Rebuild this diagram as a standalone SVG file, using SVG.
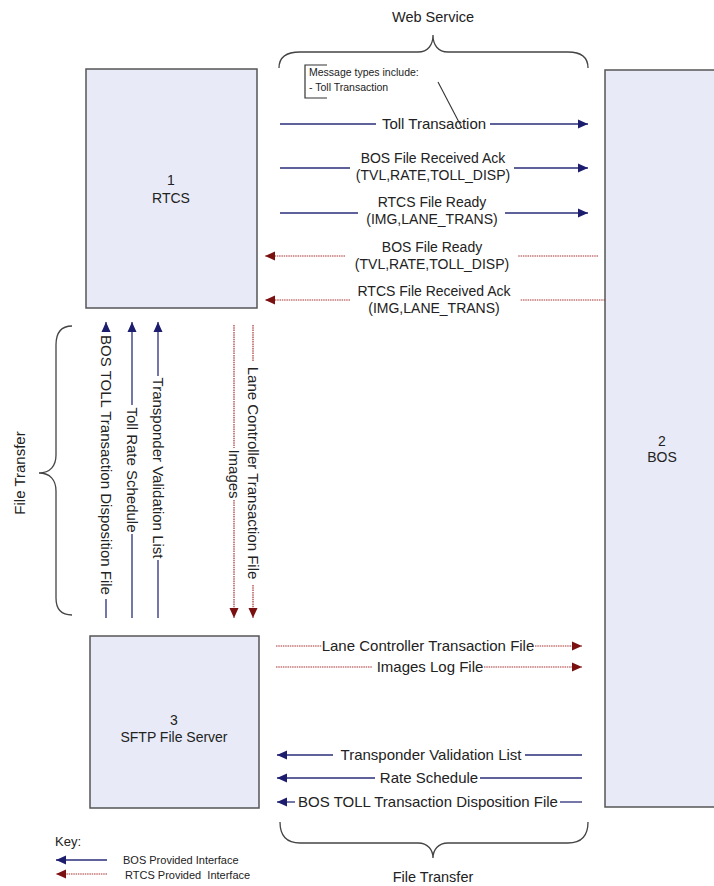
<svg xmlns="http://www.w3.org/2000/svg" width="714" height="886" viewBox="0 0 714 886">
<style>
text{font-family:"Liberation Sans",Arial,sans-serif;fill:#222}
.lbl{font-size:15px;text-anchor:middle}
.lb2{font-size:14px;text-anchor:middle}
.box{fill:#e8ebf7;stroke:#555;stroke-width:1.5}
.bname{font-size:14px;text-anchor:middle}
.bl{stroke:#2a2d7a;stroke-width:1.3;fill:none}
.rd{stroke:#a83232;stroke-width:1.2;fill:none;stroke-dasharray:1.5 0.8}
.br{stroke:#444;stroke-width:1.3;fill:none}
.note{font-size:10.5px}
</style>
<defs>
<marker id="ab" markerUnits="userSpaceOnUse" markerWidth="12" markerHeight="10" refX="10" refY="5" orient="auto"><path d="M0,0.5 L10,5 L0,9.5 Z" fill="#1d1d6e"/></marker>
<marker id="ar" markerUnits="userSpaceOnUse" markerWidth="12" markerHeight="10" refX="10" refY="5" orient="auto"><path d="M0,0.5 L10,5 L0,9.5 Z" fill="#7a1010"/></marker>
</defs>

<g id="node-rtcs"><rect class="box" x="86" y="69" width="171" height="239"/><text class="bname" x="171" y="185">1</text><text class="bname" x="171" y="203">RTCS</text></g>
<g id="node-bos"><rect class="box" x="605" y="70" width="120" height="737"/><text class="bname" x="662" y="446">2</text><text class="bname" x="662" y="462">BOS</text></g>
<g id="node-sftp"><rect class="box" x="90" y="636" width="169" height="172"/><text class="bname" x="174" y="725">3</text><text class="bname" x="174" y="742">SFTP File Server</text></g>

<g id="braces">
<path class="br" d="M279,68 C279,58 285,52 300,52 L418,52 C428,52 433,45 433,35 C433,45 438,52 448,52 L568,52 C582,52 588,58 588,68"/>
<text x="433" y="22" style="font-size:14.5px;text-anchor:middle">Web Service</text>
<path class="br" d="M72,326 C62,326 56,332 56,345 L56,455 C56,466 50,473 39,473 C50,473 56,480 56,491 L56,598 C56,610 62,615 72,615"/>
<text transform="translate(20,473) rotate(-90)" y="5" style="font-size:15px;text-anchor:middle">File Transfer</text>
<path class="br" d="M280,822 C280,836 286,843 300,843 L418,843 C428,843 433,850 433,858 C433,850 438,843 448,843 L568,843 C582,843 588,836 588,822"/>
<text x="433" y="882" style="font-size:14.5px;text-anchor:middle">File Transfer</text>
</g>

<g id="note">
<path d="M327,65 L305,65 L305,98 L327,98" stroke="#333" stroke-width="1.2" fill="none"/>
<text class="note" x="309" y="76">Message types include:</text>
<text class="note" x="309" y="91">- Toll Transaction</text>
<line x1="438" y1="82" x2="462" y2="128" stroke="#333" stroke-width="1.1"/>
</g>

<g id="connectors">
<line class="bl" x1="280" y1="124" x2="376" y2="124"/><line class="bl" x1="490" y1="124" x2="588" y2="124" marker-end="url(#ab)"/>
<text class="lbl" x="434" y="129">Toll Transaction</text>

<line class="bl" x1="280" y1="168" x2="350" y2="168"/><line class="bl" x1="514" y1="168" x2="588" y2="168" marker-end="url(#ab)"/>
<text class="lb2" x="433" y="162.5">BOS File Received Ack</text><text class="lb2" x="433" y="179.5">(TVL,RATE,TOLL_DISP)</text>

<line class="bl" x1="280" y1="213" x2="358" y2="213"/><line class="bl" x1="505" y1="213" x2="588" y2="213" marker-end="url(#ab)"/>
<text class="lb2" x="432" y="206.5">RTCS File Ready</text><text class="lb2" x="432" y="223.5">(IMG,LANE_TRANS)</text>

<line class="rd" x1="598" y1="256" x2="518" y2="256"/><line class="rd" x1="345" y1="256" x2="265" y2="256" marker-end="url(#ar)"/>
<text class="lb2" x="432" y="251.5">BOS File Ready</text><text class="lb2" x="432" y="268.5">(TVL,RATE,TOLL_DISP)</text>

<line class="rd" x1="605" y1="300" x2="520" y2="300"/><line class="rd" x1="350" y1="300" x2="265" y2="300" marker-end="url(#ar)"/>
<text class="lb2" x="434" y="295.5">RTCS File Received Ack</text><text class="lb2" x="434" y="312.5">(IMG,LANE_TRANS)</text>

<line class="bl" x1="106" y1="331" x2="106" y2="322" marker-end="url(#ab)"/><line class="bl" x1="106" y1="618" x2="106" y2="599"/>
<text class="lbl" transform="translate(106,465) rotate(90)" y="5.5">BOS TOLL Transaction Disposition File</text>

<line class="bl" x1="132" y1="405" x2="132" y2="322" marker-end="url(#ab)"/><line class="bl" x1="132" y1="618" x2="132" y2="534"/>
<text class="lbl" transform="translate(132,470) rotate(90)" y="5.5">Toll Rate Schedule</text>

<line class="bl" x1="158" y1="376" x2="158" y2="322" marker-end="url(#ab)"/><line class="bl" x1="158" y1="618" x2="158" y2="560"/>
<text class="lbl" transform="translate(158,468) rotate(90)" y="5.5">Transponder Validation List</text>

<line class="rd" x1="234" y1="325" x2="234" y2="448"/><line class="rd" x1="234" y1="500" x2="234" y2="618" marker-end="url(#ar)"/>
<text class="lbl" transform="translate(234,474) rotate(90)" y="5.5">Images</text>

<line class="rd" x1="253" y1="325" x2="253" y2="361"/><line class="rd" x1="253" y1="585" x2="253" y2="618" marker-end="url(#ar)"/>
<text class="lbl" transform="translate(253,473) rotate(90)" y="5.5">Lane Controller Transaction File</text>

<line class="rd" x1="276" y1="646" x2="322" y2="646"/><line class="rd" x1="535" y1="646" x2="582" y2="646" marker-end="url(#ar)"/>
<text class="lbl" x="428" y="651">Lane Controller Transaction File</text>

<line class="rd" x1="276" y1="667" x2="372" y2="667"/><line class="rd" x1="484" y1="667" x2="582" y2="667" marker-end="url(#ar)"/>
<text class="lbl" x="430" y="672">Images Log File</text>

<line class="bl" x1="582" y1="755" x2="525" y2="755"/><line class="bl" x1="333" y1="755" x2="277" y2="755" marker-end="url(#ab)"/>
<text class="lbl" x="431" y="760">Transponder Validation List</text>

<line class="bl" x1="582" y1="778" x2="480" y2="778"/><line class="bl" x1="375" y1="778" x2="277" y2="778" marker-end="url(#ab)"/>
<text class="lbl" x="429" y="783">Rate Schedule</text>

<line class="bl" x1="582" y1="802" x2="560" y2="802"/><line class="bl" x1="295" y1="802" x2="277" y2="802" marker-end="url(#ab)"/>
<text class="lbl" x="428" y="807">BOS TOLL Transaction Disposition File</text>
</g>

<g id="key">
<text x="55" y="846" style="font-size:13px">Key:</text>
<line class="bl" x1="107" y1="860" x2="56" y2="860" marker-end="url(#ab)"/>
<text x="123" y="864" style="font-size:11px">BOS Provided Interface</text>
<line class="rd" x1="107" y1="874" x2="56" y2="874" marker-end="url(#ar)"/>
<text x="125" y="879" style="font-size:11px" xml:space="preserve">RTCS Provided  Interface</text>
</g>
</svg>
